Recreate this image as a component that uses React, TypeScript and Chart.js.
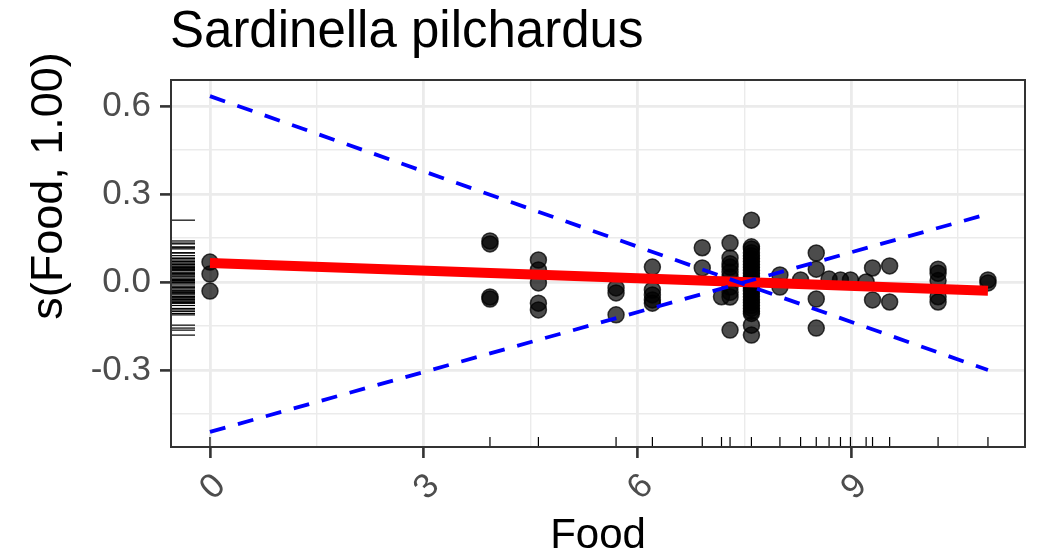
import React, { useEffect, useRef } from 'react';
import { Chart, registerables } from 'chart.js';

Chart.register(...registerables);

const titleText = 'Sardinella pilchardus';
const xTitle = 'Food';
const yTitle = 's(Food, 1.00)';

const xTickValues = [0, 1.5, 3, 4.5, 6, 7.5, 9, 10.5];
const xTickLabels = ['0', '', '3', '', '6', '', '9', ''];
const yTickValues = [-0.45, -0.3, -0.15, 0, 0.15, 0.3, 0.45, 0.6];
const yTickLabels = ['', '-0.3', '', '0.0', '', '0.3', '', '0.6'];

const xRange = [-0.547, 11.44];
const yRange = [-0.5626, 0.689];

// smooth fit and confidence band (straight, k = 1 edf)
const fitX = [0, 10.92];
const fitY = [0.065, -0.03];
const upperY = [0.634, -0.3];
const lowerY = [-0.511, 0.232];

// partial residual points
const pointX = [
  0, 0, 0,
  3.93, 3.93, 3.93, 3.93,
  4.61, 4.61, 4.61, 4.61, 4.61,
  5.7, 5.7, 5.7,
  6.21, 6.21, 6.21, 6.21, 6.21,
  6.91, 6.91,
  7.18,
  7.3, 7.3, 7.3, 7.3, 7.3, 7.3, 7.3, 7.3, 7.3, 7.3,
  7.6, 7.6, 7.6, 7.6, 7.6, 7.6, 7.6, 7.6, 7.6, 7.6, 7.6, 7.6, 7.6, 7.6, 7.6,
  7.6, 7.6, 7.6, 7.6, 7.6, 7.6, 7.6, 7.6, 7.6, 7.6, 7.6, 7.6,
  8.0, 8.0,
  8.29,
  8.51, 8.51, 8.51, 8.51,
  8.69,
  8.85,
  8.99,
  9.21,
  9.3, 9.3,
  9.54, 9.54,
  10.22, 10.22, 10.22, 10.22, 10.22,
  10.92, 10.92,
];
const pointY = [
  0.068, 0.027, -0.031,
  0.14, 0.13, -0.051, -0.058,
  0.075, 0.041, -0.003, -0.072, -0.095,
  -0.02, -0.037, -0.112,
  0.051, -0.027, -0.044, -0.061, -0.072,
  0.117, 0.048,
  -0.05,
  0.133, 0.082, 0.062, 0.051, 0.034, 0.017, -0.017, -0.035, -0.051, -0.164,
  0.211, 0.12, 0.1, 0.08, 0.06, 0.04, 0.02, 0.0, -0.02, -0.04, -0.06, -0.08, -0.1, -0.147, -0.181,
  0.113, 0.09, 0.07, 0.05, 0.03, 0.01, -0.01, -0.03, -0.05, -0.07, -0.09, -0.107,
  0.024, -0.017,
  0.007,
  0.099, 0.044, -0.058, -0.157,
  0.01,
  0.007,
  0.007,
  0.0,
  0.048, -0.061,
  0.055, -0.068,
  0.044, 0.03, 0.005, -0.05, -0.068,
  0.007, -0.003,
];

const FONT = '"Liberation Sans", Arial, Helvetica, sans-serif';

function labelFor(values: number[], labels: string[], v: number) {
  const i = values.findIndex((t) => Math.abs(t - v) < 1e-6);
  return i >= 0 ? labels[i] : '';
}
function isMajor(values: number[], labels: string[], v: number) {
  return labelFor(values, labels, v) !== '';
}

const decorPlugin = {
  id: 'decor',
  beforeDatasetsDraw(chart: any) {
    const { ctx, chartArea, scales } = chart;
    ctx.save();
    ctx.strokeStyle = '#000000';
    ctx.lineWidth = 1.2;
    const seen = new Set<number>();
    pointX.forEach((v) => {
      if (seen.has(v)) return;
      seen.add(v);
      const px = scales.x.getPixelForValue(v);
      ctx.beginPath();
      ctx.moveTo(px, chartArea.bottom);
      ctx.lineTo(px, chartArea.bottom - 10);
      ctx.stroke();
    });
    pointY.forEach((v) => {
      const py = scales.y.getPixelForValue(v);
      ctx.beginPath();
      ctx.moveTo(chartArea.left, py);
      ctx.lineTo(chartArea.left + 24, py);
      ctx.stroke();
    });
    ctx.restore();
  },
  afterDraw(chart: any) {
    const { ctx, chartArea, scales } = chart;
    ctx.save();
    ctx.strokeStyle = '#333333';
    ctx.lineWidth = 2;
    ctx.strokeRect(chartArea.left, chartArea.top, chartArea.right - chartArea.left, chartArea.bottom - chartArea.top);

    // rotated x tick labels
    ctx.fillStyle = '#4D4D4D';
    ctx.font = `35px ${FONT}`;
    ctx.textAlign = 'center';
    ctx.textBaseline = 'middle';
    xTickValues.forEach((v, i) => {
      const lab = xTickLabels[i];
      if (!lab) return;
      const px = scales.x.getPixelForValue(v);
      ctx.save();
      ctx.translate(px + 2, chartArea.bottom + 39);
      ctx.rotate(-Math.PI / 4);
      ctx.fillText(lab, 0, 2);
      ctx.restore();
    });

    ctx.fillStyle = '#000000';
    ctx.textBaseline = 'alphabetic';
    ctx.font = `51px ${FONT}`;
    ctx.textAlign = 'left';
    ctx.fillText(titleText, 170, 47);

    ctx.font = `42px ${FONT}`;
    ctx.textAlign = 'center';
    ctx.fillText(xTitle, (chartArea.left + chartArea.right) / 2, 548);

    ctx.font = `45px ${FONT}`;
    ctx.translate(62, 186);
    ctx.rotate(-Math.PI / 2);
    ctx.fillText(yTitle, 0, 0);
    ctx.restore();
  },
};

export default function App() {
  const ref = useRef<HTMLCanvasElement | null>(null);

  useEffect(() => {
    if (!ref.current) return;
    const chart = new Chart(ref.current, {
      type: 'scatter',
      data: {
        datasets: [
          {
            type: 'line',
            data: fitX.map((x, i) => ({ x, y: upperY[i] })),
            borderColor: '#0000FF',
            borderWidth: 3.8,
            borderDash: [16, 13],
            pointRadius: 0,
            fill: false,
            order: 1,
          },
          {
            type: 'line',
            data: fitX.map((x, i) => ({ x, y: lowerY[i] })),
            borderColor: '#0000FF',
            borderWidth: 3.8,
            borderDash: [16, 13],
            pointRadius: 0,
            fill: false,
            order: 1,
          },
          {
            type: 'line',
            data: fitX.map((x, i) => ({ x, y: fitY[i] })),
            borderColor: '#FF0000',
            borderWidth: 10,
            borderCapStyle: 'butt',
            pointRadius: 0,
            fill: false,
            order: 2,
          },
          {
            type: 'scatter',
            data: pointX.map((x, i) => ({ x, y: pointY[i] })),
            backgroundColor: 'rgba(0,0,0,0.7)',
            borderColor: 'rgba(0,0,0,0.75)',
            borderWidth: 1.5,
            pointRadius: 8,
            order: 3,
          },
        ] as any,
      },
      options: {
        animation: false,
        responsive: false,
        layout: { padding: { top: 80, right: 18, bottom: 0, left: 0 } },
        plugins: {
          legend: { display: false },
          title: { display: false },
          tooltip: { enabled: false },
        },
        scales: {
          x: {
            type: 'linear',
            min: xRange[0],
            max: xRange[1],
            afterBuildTicks: (s: any) => {
              s.ticks = xTickValues.map((v) => ({ value: v }));
            },
            afterFit: (s: any) => {
              s.height = 109;
            },
            border: { display: false },
            grid: {
              color: '#EBEBEB',
              lineWidth: (c: any) => (isMajor(xTickValues, xTickLabels, c.tick?.value) ? 2.8 : 1.4),
              tickColor: (c: any) => (isMajor(xTickValues, xTickLabels, c.tick?.value) ? '#333333' : 'rgba(0,0,0,0)'),
              tickWidth: 2.6,
              tickLength: 11,
            },
            ticks: {
              display: false,
              autoSkip: false,
            },
          },
          y: {
            type: 'linear',
            min: yRange[0],
            max: yRange[1],
            afterBuildTicks: (s: any) => {
              s.ticks = yTickValues.map((v) => ({ value: v }));
            },
            afterFit: (s: any) => {
              s.width = 171;
            },
            border: { display: false },
            grid: {
              color: '#EBEBEB',
              lineWidth: (c: any) => (isMajor(yTickValues, yTickLabels, c.tick?.value) ? 2.8 : 1.4),
              tickColor: (c: any) => (isMajor(yTickValues, yTickLabels, c.tick?.value) ? '#333333' : 'rgba(0,0,0,0)'),
              tickWidth: 2.6,
              tickLength: 11,
            },
            ticks: {
              autoSkip: false,
              padding: 9,
              color: '#4D4D4D',
              font: { family: FONT, size: 35 },
              callback: (v: any) => labelFor(yTickValues, yTickLabels, Number(v)),
            },
          },
        },
      } as any,
      plugins: [decorPlugin],
    });
    return () => chart.destroy();
  }, []);

  return (
    <div style={{ position: 'absolute', left: 0, top: 0, width: 1043, height: 556, background: '#fff' }}>
      <canvas ref={ref} width={1043} height={556} style={{ display: 'block' }} />
    </div>
  );
}
